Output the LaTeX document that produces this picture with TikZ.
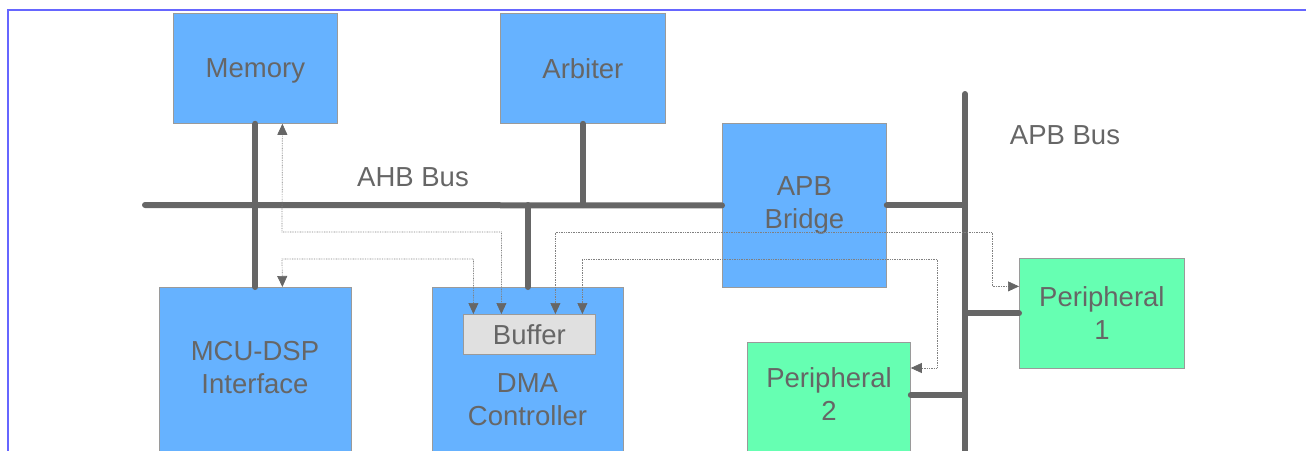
\documentclass[tikz,border=0pt]{standalone}
\usepackage{fontspec}
\setmainfont{Liberation Sans}
\usetikzlibrary{arrows.meta,calc}
\definecolor{boxblue}{HTML}{66B2FF}
\definecolor{boxgreen}{HTML}{66FFB2}
\definecolor{bufgray}{HTML}{E0E0E0}
\definecolor{bordergray}{HTML}{9A9A9A}
\definecolor{txtgray}{HTML}{666666}
\definecolor{busgray}{HTML}{666666}
\definecolor{dotgray}{HTML}{808080}
\definecolor{framec}{HTML}{6666FF}
\begin{document}
\begin{tikzpicture}[x=1pt,y=-1pt,
  >={Triangle[length=11pt,width=10pt,color=busgray,fill=busgray]},
  txt/.style={text=txtgray,font=\fontsize{27.5}{33}\selectfont,align=center,inner sep=0pt},
  blk/.style={txt,draw=bordergray,line width=0.8pt,anchor=north west},
  bus/.style={draw=busgray,line width=6pt,line cap=round},
  dl/.style={draw=dotgray,line width=0.7pt,dash pattern=on 0.8pt off 0.9pt,<->}
]
\useasboundingbox (0,0) rectangle (1306,450);
\clip (0,0) rectangle (1306,450);

% frame
\draw[framec,line width=2pt] (7,10) -- (1310,10);
\draw[framec,line width=2pt] (8,9) -- (8,455);

% blocks
\node[blk,fill=boxblue,minimum width=164pt,minimum height=110pt,text depth=0pt] (mem) at (173,13) {Memory};
\node[blk,fill=boxblue,minimum width=165pt,minimum height=110pt] (arb) at (500,13) {Arbiter};
\node[blk,fill=boxblue,minimum width=164pt,minimum height=164pt] (bridge) at (722,123) {APB\\Bridge};
\node[blk,fill=boxblue,minimum width=192pt,minimum height=200pt] (mcu) at (159,287) {};
\node[txt] (mcut) at (255,368) {MCU-DSP\\Interface};
\node[blk,fill=boxblue,minimum width=191pt,minimum height=200pt] (dma) at (432,287) {};
\node[txt] (dmat) at (527.5,400) {DMA\\Controller};
\node[blk,fill=bufgray,minimum width=132pt,minimum height=40pt] (buf) at (463,314) {Buffer};
\node[blk,fill=boxgreen,minimum width=165pt,minimum height=110pt] (p1) at (1019,258) {Peripheral\\1};
\node[blk,fill=boxgreen,minimum width=163pt,minimum height=130pt] (p2) at (747,342) {};
\node[txt] (p2t) at (829,394) {Peripheral\\2};

% labels
\node[txt] (ahbl) at (413,177) {AHB Bus};
\node[txt] (apbl) at (1065,135) {APB Bus};

% buses
\coordinate (ahbL) at (145,205);
\coordinate (apbT) at (965,94);
\coordinate (apbB) at (965,460);
\coordinate (p2c) at ($(p2.north east)+(0,53)$);
\draw[bus] (ahbL) -- (bridge.west);
\draw[bus] (apbT) -- (apbB);
\draw[bus] (mem.south) -- (mcu.north);
\draw[bus] (arb.south) -- (arb.south |- ahbL);
\draw[bus] (dma.north) -- (dma.north |- ahbL);
\draw[bus] (bridge.east) -- (bridge.east -| apbT);
\draw[bus] (p1.west) -- (p1.west -| apbT);
\draw[bus] (p2c) -- (p2c -| apbT);

% dotted transfers
\draw[dl] ([xshift=27pt]mem.south) -- (282,232) -| ([xshift=-28pt]buf.north);
\draw[dl] ([xshift=27pt]mcu.north) -- (282,259) -| ([xshift=-56pt]buf.north);
\draw[dl] ([xshift=26pt]buf.north) |- (992,232) |- ([yshift=27pt]p1.west);
\draw[dl] ([xshift=53pt]buf.north) |- (937,259) |- ([yshift=-26pt]p2.north east);
\end{tikzpicture}
\end{document}
